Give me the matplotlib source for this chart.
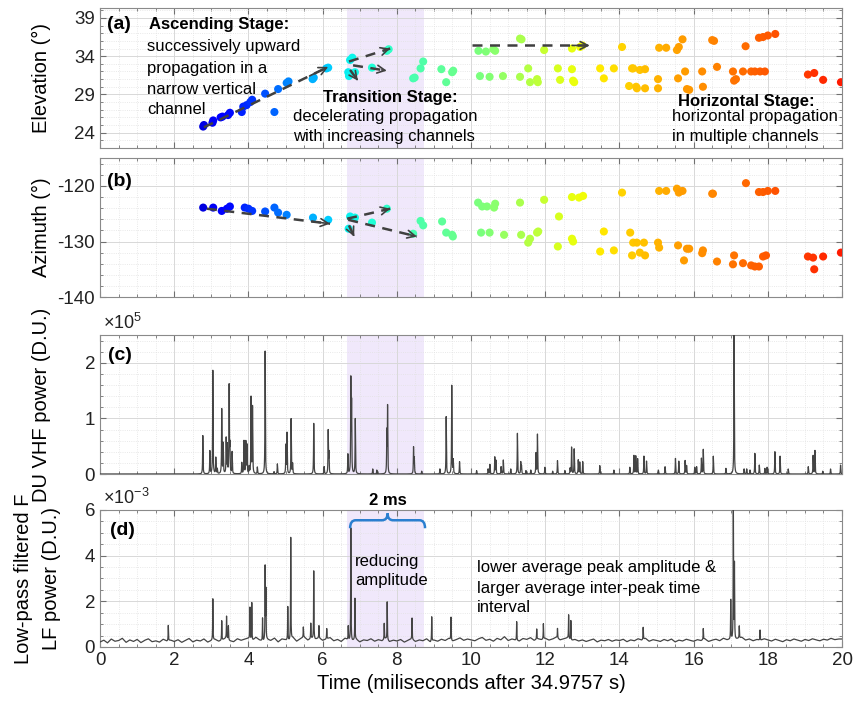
import numpy as np
import matplotlib.pyplot as plt
from matplotlib import cm
from matplotlib.ticker import MultipleLocator, FuncFormatter
from matplotlib.path import Path
from matplotlib.patches import PathPatch

plt.rcParams['font.family'] = ['Liberation Sans', 'DejaVu Sans']
plt.rcParams['mathtext.fontset'] = 'custom'
plt.rcParams['mathtext.rm'] = 'Liberation Sans'
plt.rcParams['mathtext.it'] = 'Liberation Sans:italic'
plt.rcParams['axes.unicode_minus'] = False

# --- source locations: elevation (deg) vs time (ms) ---
elev_t = [2.78, 2.80, 3.03, 3.05, 3.25, 3.30, 3.45, 3.50, 3.82, 3.86, 3.95, 4.05, 4.10,
          4.45, 4.70, 4.80, 5.03, 5.08, 5.73, 5.76, 6.10, 6.15, 6.69, 6.71, 6.74, 6.80,
          6.87, 7.33, 7.73, 7.78, 8.44, 8.48, 8.64, 8.71, 9.20, 9.33, 9.49, 9.52,
          10.20, 10.40, 10.60, 10.65, 11.32, 11.36, 11.97, 12.72, 12.94, 13.00, 14.07,
          15.07, 15.26, 15.55, 15.60, 15.70, 16.50, 16.55, 17.40, 17.76, 17.87, 18.00, 18.20,
          10.24, 10.50, 10.86, 11.32, 11.54, 11.59, 11.78, 11.80, 12.34, 12.40, 12.72,
          12.75, 12.78, 13.48, 13.58, 13.85, 14.34, 14.37, 14.55, 14.69, 14.26, 14.45,
          14.47, 14.69, 15.04, 15.04, 15.58, 15.77, 15.82, 15.88, 16.23, 16.25, 16.63,
          17.06, 17.09, 17.14, 17.33, 17.55, 17.65, 17.79, 17.92, 19.08, 19.25, 19.49, 19.97]
elev_v = [24.8, 25.0, 25.3, 25.6, 26.0, 26.1, 26.3, 26.6, 26.7, 27.4, 27.6, 28.0, 28.3,
          29.1, 26.7, 29.7, 30.5, 30.7, 31.0, 31.2, 32.4, 32.5, 31.9, 31.4, 33.5, 33.8,
          31.9, 32.5, 34.7, 34.9, 31.1, 31.2, 32.4, 33.3, 32.3, 30.6, 31.9, 32.1,
          34.7, 34.6, 34.9, 34.7, 36.3, 36.2, 34.8, 35.0, 35.2, 35.4, 35.2,
          35.1, 35.1, 34.8, 35.2, 36.2, 36.1, 36.0, 35.3, 36.4, 36.5, 36.7, 36.9,
          31.4, 31.3, 31.4, 31.3, 32.4, 30.6, 31.0, 30.6, 32.4, 30.9, 32.3,
          30.8, 30.6, 32.4, 31.1, 32.4, 32.4, 32.4, 32.2, 32.3, 30.1, 30.0,
          29.8, 29.8, 31.0, 29.8, 31.1, 32.0, 29.7, 29.6, 32.0, 30.0, 32.6,
          32.0, 30.8, 31.0, 32.0, 32.0, 32.0, 32.0, 32.0, 31.6, 31.8, 30.9, 30.6]

# --- source locations: azimuth (deg) vs time (ms) ---
az_t = [2.78, 3.05, 3.28, 3.42, 3.50, 3.90, 4.00, 4.10, 4.45, 4.70, 4.80, 5.03, 5.74,
        6.15, 6.74, 6.87, 6.70, 7.33, 7.73, 8.44, 8.64, 8.71, 9.22, 9.33, 9.49, 9.51,
        10.19, 10.30, 10.43, 10.65, 10.62, 11.32, 11.97, 12.72, 12.91, 13.02, 14.07,
        15.07, 15.26, 15.55, 15.60, 15.70, 16.50, 16.52, 17.41, 17.76, 17.87, 18.00, 18.20,
        12.37, 10.27, 10.50, 10.89, 11.35, 11.54, 11.59, 11.78, 11.81, 12.34, 12.72,
        12.75, 13.48, 13.58, 13.85, 14.29, 14.37, 14.47, 14.66, 14.34, 14.55, 14.69,
        15.04, 15.07, 15.58, 15.82, 15.88, 15.74, 16.23, 16.25, 16.63, 17.06, 17.09,
        17.33, 17.55, 17.65, 17.76, 17.87, 17.95, 19.08, 19.22, 19.49, 19.25, 19.97]
az_v = [-123.9, -123.9, -124.5, -124.1, -123.7, -123.9, -124.1, -124.5, -124.6, -123.9,
        -124.8, -125.2, -125.7, -126.1, -125.5, -125.7, -127.7, -126.6, -124.1, -128.6,
        -126.3, -127.1, -126.4, -128.4, -128.8, -129.1,
        -123.0, -123.7, -123.7, -123.2, -123.9, -123.0, -122.5, -122.0, -122.1, -121.8, -121.2,
        -120.9, -120.9, -120.5, -121.2, -120.9, -121.4, -121.4, -119.5, -121.1, -121.1,
        -120.9, -120.9,
        -125.5, -128.4, -128.4, -128.8, -128.8, -130.2, -129.5, -128.4, -128.2, -130.9, -129.5,
        -130.0, -131.8, -128.2, -131.6, -128.4, -130.2, -130.2, -130.2, -132.5, -132.0, -132.5,
        -130.2, -131.1, -130.7, -131.3, -131.3, -133.4, -132.1, -131.6, -133.6, -134.1, -132.5,
        -133.9, -134.3, -134.5, -134.5, -132.7, -132.5, -132.7, -132.9, -132.7, -135.0, -132.0]

# --- VHF power peaks (x1e5 D.U.) ---
vhf_t = [2.77, 2.96, 3.04, 3.12, 3.16, 3.28, 3.32, 3.40, 3.43, 3.48, 3.50, 3.56, 3.82,
         3.88, 3.93, 3.96, 4.02, 4.07, 4.11, 4.24, 4.45, 4.69, 4.78, 5.01, 5.04, 5.15,
         5.19, 5.76, 6.04, 6.15, 6.17, 6.68, 6.76, 6.78, 6.88, 7.35, 7.46, 7.73, 7.75,
         8.45, 8.47, 8.67, 9.16, 9.33, 9.48, 9.52, 9.69, 10.15, 10.46, 10.51, 10.64,
         10.67, 10.81, 10.87, 11.07, 11.25, 11.34, 11.36, 11.48, 11.61, 11.75, 11.79,
         11.99, 12.20, 12.33, 12.53, 12.67, 12.71, 12.78, 12.89, 12.93, 13.01, 13.47,
         13.85, 14.28, 14.39, 14.44, 14.49, 14.66, 14.73, 15.05, 15.23, 15.51, 15.60,
         15.77, 15.81, 16.03, 16.08, 16.21, 16.26, 16.53, 16.87, 17.09, 17.36, 17.43,
         17.52, 17.65, 17.77, 17.92, 17.98, 18.19, 18.33, 18.55, 19.09, 19.22, 19.27,
         19.48, 19.69, 19.96]
vhf_a = [0.69, 0.41, 1.86, 0.29, 0.09, 1.16, 0.54, 0.63, 0.51, 1.57, 0.47, 0.39, 0.20,
         0.59, 0.57, 0.51, 0.12, 1.37, 1.20, 0.12, 2.21, 0.04, 0.18, 0.51, 0.73, 0.99,
         0.18, 0.91, 0.13, 0.77, 0.36, 0.35, 1.66, 1.23, 0.99, 0.09, 0.07, 0.73, 1.19,
         0.47, 0.27, 0.05, 0.09, 1.03, 1.59, 0.24, 0.22, 0.06, 0.09, 0.17, 0.30,
         0.24, 0.13, 0.25, 0.09, 0.73, 0.21, 0.14, 0.06, 0.07, 0.37, 0.71,
         0.12, 0.05, 0.24, 0.06, 0.10, 0.48, 0.45, 0.25, 0.21, 0.22, 0.15,
         0.07, 0.12, 0.33, 0.32, 0.27, 0.32, 0.23, 0.07, 0.13, 0.28, 0.23,
         0.24, 0.15, 0.12, 0.13, 0.28, 0.44, 0.32, 0.10, 2.50, 0.09, 0.09,
         0.07, 0.37, 0.16, 0.10, 0.12, 0.40, 0.32, 0.09, 0.13, 0.33, 0.42,
         0.05, 0.09, 0.16]

# --- low-pass filtered LF power peaks (x1e-3 D.U.) ---
lf_t = [1.84, 3.04, 3.28, 3.41, 3.46, 4.04, 4.09, 4.38, 4.45, 4.47, 5.06, 5.14, 5.48,
        5.68, 5.76, 5.90, 6.11, 6.69, 6.76, 6.87, 7.66, 7.74, 8.41, 8.94, 9.46, 11.23,
        11.77, 11.95, 12.33, 12.63, 12.69, 14.64, 16.26, 17.00, 17.07, 17.10, 17.23, 17.79]
lf_a = [0.67, 1.81, 0.85, 0.96, 0.60, 1.40, 1.66, 1.00, 3.18, 2.13, 1.47, 4.47, 0.45,
        0.67, 2.98, 0.53, 0.45, 0.60, 4.93, 1.81, 0.70, 1.66, 0.93, 1.07, 1.00, 0.82,
        0.45, 0.67, 0.42, 1.04, 0.86, 0.53, 0.48, 1.72, 6.00, 3.30, 0.53, 0.45]

# LF background level every 0.1 ms (x1e-3 D.U.)
lf_floor = [0.22, 0.30, 0.18, 0.35, 0.25, 0.28, 0.38, 0.20, 0.31, 0.24, 0.33, 0.19, 0.29, 0.36, 0.23, 0.27, 0.21, 0.34, 0.26, 0.30,
            0.24, 0.32, 0.20, 0.29, 0.37, 0.22, 0.30, 0.26, 0.35, 0.21, 0.28, 0.33, 0.25, 0.31, 0.40, 0.27, 0.23, 0.36, 0.29, 0.34,
            0.38, 0.26, 0.42, 0.30, 0.24, 0.33, 0.28, 0.39, 0.22, 0.35, 0.31, 0.27, 0.41, 0.25, 0.36, 0.44, 0.30, 0.38, 0.33, 0.40,
            0.29, 0.35, 0.41, 0.27, 0.33, 0.24, 0.38, 0.30, 0.26, 0.34, 0.22, 0.31, 0.28, 0.36, 0.25, 0.32, 0.27, 0.37, 0.23, 0.30,
            0.26, 0.33, 0.21, 0.29, 0.35, 0.24, 0.31, 0.27, 0.36, 0.22, 0.30, 0.25, 0.34, 0.28, 0.38, 0.26, 0.32, 0.40, 0.29, 0.35,
            0.31, 0.27, 0.36, 0.42, 0.29, 0.34, 0.25, 0.38, 0.31, 0.45, 0.28, 0.35, 0.30, 0.26, 0.37, 0.33, 0.41, 0.29, 0.36, 0.32,
            0.38, 0.30, 0.35, 0.43, 0.31, 0.36, 0.40, 0.28, 0.33, 0.26, 0.31, 0.24, 0.29, 0.35, 0.22, 0.30, 0.27, 0.33, 0.25, 0.31,
            0.28, 0.34, 0.23, 0.31, 0.27, 0.36, 0.30, 0.38, 0.25, 0.32, 0.29, 0.24, 0.33, 0.27, 0.35, 0.22, 0.30, 0.26, 0.34, 0.29,
            0.25, 0.32, 0.28, 0.36, 0.24, 0.30, 0.34, 0.27, 0.38, 0.31, 0.33, 0.29, 0.37, 0.42, 0.30, 0.35, 0.27, 0.33, 0.29, 0.36,
            0.31, 0.26, 0.34, 0.29, 0.23, 0.32, 0.27, 0.35, 0.30, 0.25, 0.33, 0.28, 0.36, 0.31, 0.27, 0.34, 0.30, 0.38, 0.32, 0.35]

span = (6.65, 8.72)  # transition stage window

# propagation arrows (x0, y0, x1, y1)
arrows_a = [(2.80, 24.7, 6.15, 32.6), (6.71, 33.3, 7.82, 35.0), (6.82, 32.8, 7.73, 32.1),
            (6.74, 32.2, 6.95, 30.8), (10.03, 35.4, 13.20, 35.4)]
arrows_b = [(2.88, -124.1, 6.20, -126.8), (6.66, -125.9, 7.82, -124.1),
            (6.69, -126.1, 8.54, -129.1), (6.71, -127.1, 6.85, -129.1)]

# colour by time along jet
col_t = [2.7, 4.0, 5.0, 6.7, 8.5, 10.3, 12.7, 15.0, 17.5, 20.0]
col_j = [0.08, 0.17, 0.25, 0.36, 0.44, 0.50, 0.63, 0.72, 0.80, 0.88]


def jet_of(times):
    return cm.jet(np.interp(times, col_t, col_j))


def spike_trace(grid, pk_t, pk_a, w):
    y = np.zeros_like(grid)
    for ti, ai in zip(pk_t, pk_a):
        y += ai / (1 + ((grid - ti) / w) ** 2)
    return y


def dashed_arrow(ax, x0, y0, x1, y1):
    ax.plot([x0, x1], [y0, y1], ls=(0, (4, 3)), color='#404040', lw=1.8, zorder=4)
    ax.annotate('', xy=(x1, y1), xytext=(x0 + 0.85 * (x1 - x0), y0 + 0.85 * (y1 - y0)),
                arrowprops=dict(arrowstyle='->', color='#404040', lw=1.2,
                                mutation_scale=14, shrinkA=0, shrinkB=0), zorder=5)


def style(ax):
    ax.set_xlim(0, 20)
    ax.axvspan(*span, color='#f0e8fb', zorder=0, lw=0)
    ax.xaxis.set_major_locator(MultipleLocator(2))
    ax.xaxis.set_minor_locator(MultipleLocator(0.5))
    ax.set_axisbelow(True)
    ax.grid(True, which='major', color='#d8d8d8', lw=0.7)
    ax.grid(True, which='minor', color='#e2e2e2', lw=0.6, ls=':')
    ax.tick_params(which='both', direction='in', top=True, right=True, color='#707070',
                   labelsize=13.5, labelcolor='#222222')
    ax.tick_params(which='major', length=4)
    ax.tick_params(which='minor', length=2)
    for s in ax.spines.values():
        s.set_color('#8a8a8a')


fig = plt.figure(figsize=(8.58, 7.04), dpi=100)
L, W = 0.1166, 0.8648
ax1 = fig.add_axes([L, 0.7898, W, 0.1989])
ax2 = fig.add_axes([L, 0.5780, W, 0.1974])
ax3 = fig.add_axes([L, 0.3267, W, 0.1974])
ax4 = fig.add_axes([L, 0.0810, W, 0.1946])
for ax in (ax1, ax2, ax3, ax4):
    style(ax)
for ax in (ax1, ax2, ax3):
    ax.tick_params(labelbottom=False)

# (a) elevation
ax1.scatter(elev_t, elev_v, s=34, c=jet_of(elev_t), edgecolors='none', zorder=3)
for a in arrows_a:
    dashed_arrow(ax1, *a)
ax1.set_ylim(22, 40.3)
ax1.set_yticks([24, 29, 34, 39])
ax1.yaxis.set_minor_locator(MultipleLocator(1))
ax1.set_ylabel('Elevation (°)', fontsize=14.5)
ax1.yaxis.set_label_coords(-0.066, 0.5)
ax1.text(0.18, 38.1, '(a)', fontsize=14, fontweight='bold', va='center')
ax1.text(1.32, 38.1, 'Ascending Stage:', fontsize=12, fontweight='bold', va='center')
for txt, yy in zip(['successively upward', 'propagation in a', 'narrow vertical', 'channel'],
                   [35.2, 32.45, 29.7, 27.0]):
    ax1.text(1.27, yy, txt, fontsize=12, va='center')
ax1.text(6.0, 28.55, 'Transition Stage:', fontsize=12, fontweight='bold', va='center')
ax1.text(5.2, 26.05, 'decelerating propagation', fontsize=12, va='center')
ax1.text(5.2, 23.45, 'with increasing channels', fontsize=12, va='center')
ax1.text(15.58, 28.1, 'Horizontal Stage:', fontsize=12, fontweight='bold', va='center')
ax1.text(15.42, 26.05, 'horizontal propagation', fontsize=12, va='center')
ax1.text(15.42, 23.45, 'in multiple channels', fontsize=12, va='center')

# (b) azimuth
ax2.scatter(az_t, az_v, s=34, c=jet_of(az_t), edgecolors='none', zorder=3)
for a in arrows_b:
    dashed_arrow(ax2, *a)
ax2.set_ylim(-140, -115)
ax2.set_yticks([-140, -130, -120])
ax2.yaxis.set_minor_locator(MultipleLocator(2))
ax2.set_ylabel('Azimuth (°)', fontsize=14.5)
ax2.yaxis.set_label_coords(-0.066, 0.5)
ax2.text(0.19, -119.2, '(b)', fontsize=14, fontweight='bold', va='center')

# (c) VHF power
tg = np.union1d(np.linspace(0, 20, 8001), vhf_t)
vhf = spike_trace(tg, vhf_t, np.array(vhf_a) * 1e5, 0.006)
ax3.plot(tg, vhf, color='#444444', lw=0.9, zorder=3)
ax3.set_ylim(0, 2.5e5)
ax3.yaxis.set_major_locator(MultipleLocator(1e5))
ax3.yaxis.set_minor_locator(MultipleLocator(0.2e5))
ax3.yaxis.set_major_formatter(FuncFormatter(lambda v, p: f'{v / 1e5:g}'))
ax3.set_ylabel('DU VHF power (D.U.)', fontsize=14.5)
ax3.yaxis.set_label_coords(-0.066, 0.5)
ax3.text(0.004, 1.015, r'$\times10^{5}$', transform=ax3.transAxes, fontsize=13,
         va='bottom', color='#222222')
ax3.text(0.22, 2.14e5, '(c)', fontsize=14, fontweight='bold', va='center')

# (d) LF power
tg2 = np.union1d(np.linspace(0, 20, 8001), lf_t)
floor_t = np.arange(len(lf_floor)) * 0.1
lf = np.interp(tg2, floor_t, lf_floor) + spike_trace(tg2, lf_t, lf_a, 0.005)
ax4.plot(tg2, np.array(lf) * 1e-3, color='#444444', lw=0.9, zorder=3)
ax4.set_ylim(0, 6e-3)
ax4.yaxis.set_major_locator(MultipleLocator(2e-3))
ax4.yaxis.set_minor_locator(MultipleLocator(0.5e-3))
ax4.yaxis.set_major_formatter(FuncFormatter(lambda v, p: f'{v / 1e-3:g}'))
ax4.set_ylabel('Low-pass filtered F\nLF power (D.U.)', fontsize=14.5, linespacing=1.6)
ax4.yaxis.set_label_coords(-0.052, 0.5)
ax4.text(0.004, 1.015, r'$\times10^{-3}$', transform=ax4.transAxes, fontsize=13,
         va='bottom', color='#222222')
ax4.set_xlabel('Time (miliseconds after 34.9757 s)', fontsize=14.5)
ax4.text(0.27, 5.12e-3, '(d)', fontsize=14, fontweight='bold', va='center')

# brace over the 2 ms window
bx0, bx1 = 6.74, 8.76
bxm = (bx0 + bx1) / 2
ye, ya, yt = 5.2e-3, 5.55e-3, 5.85e-3
d = 0.15
verts = [(bx0, ye), (bx0, ya), (bx0 + d, ya), (bxm - d, ya), (bxm, ya), (bxm, yt),
         (bxm, ya), (bxm + d, ya), (bx1 - d, ya), (bx1, ya), (bx1, ye)]
codes = [Path.MOVETO, Path.CURVE3, Path.CURVE3, Path.LINETO, Path.CURVE3, Path.CURVE3,
         Path.CURVE3, Path.CURVE3, Path.LINETO, Path.CURVE3, Path.CURVE3]
ax4.add_patch(PathPatch(Path(verts, codes), fill=False, color='#2a7fd0', lw=1.8, zorder=5))
ax4.text(bxm, 6.41e-3, '2 ms', fontsize=12, fontweight='bold', ha='center', va='center',
         clip_on=False)
ax4.text(6.87, 3.73e-3, 'reducing', fontsize=12, va='center')
ax4.text(6.87, 2.90e-3, 'amplitude', fontsize=12, va='center')
for txt, yy in zip(['lower average peak amplitude &', 'larger average inter-peak time', 'interval'],
                   [3.46e-3, 2.54e-3, 1.71e-3]):
    ax4.text(10.16, yy, txt, fontsize=12, va='center')

fig.savefig('out.png', dpi=100)
